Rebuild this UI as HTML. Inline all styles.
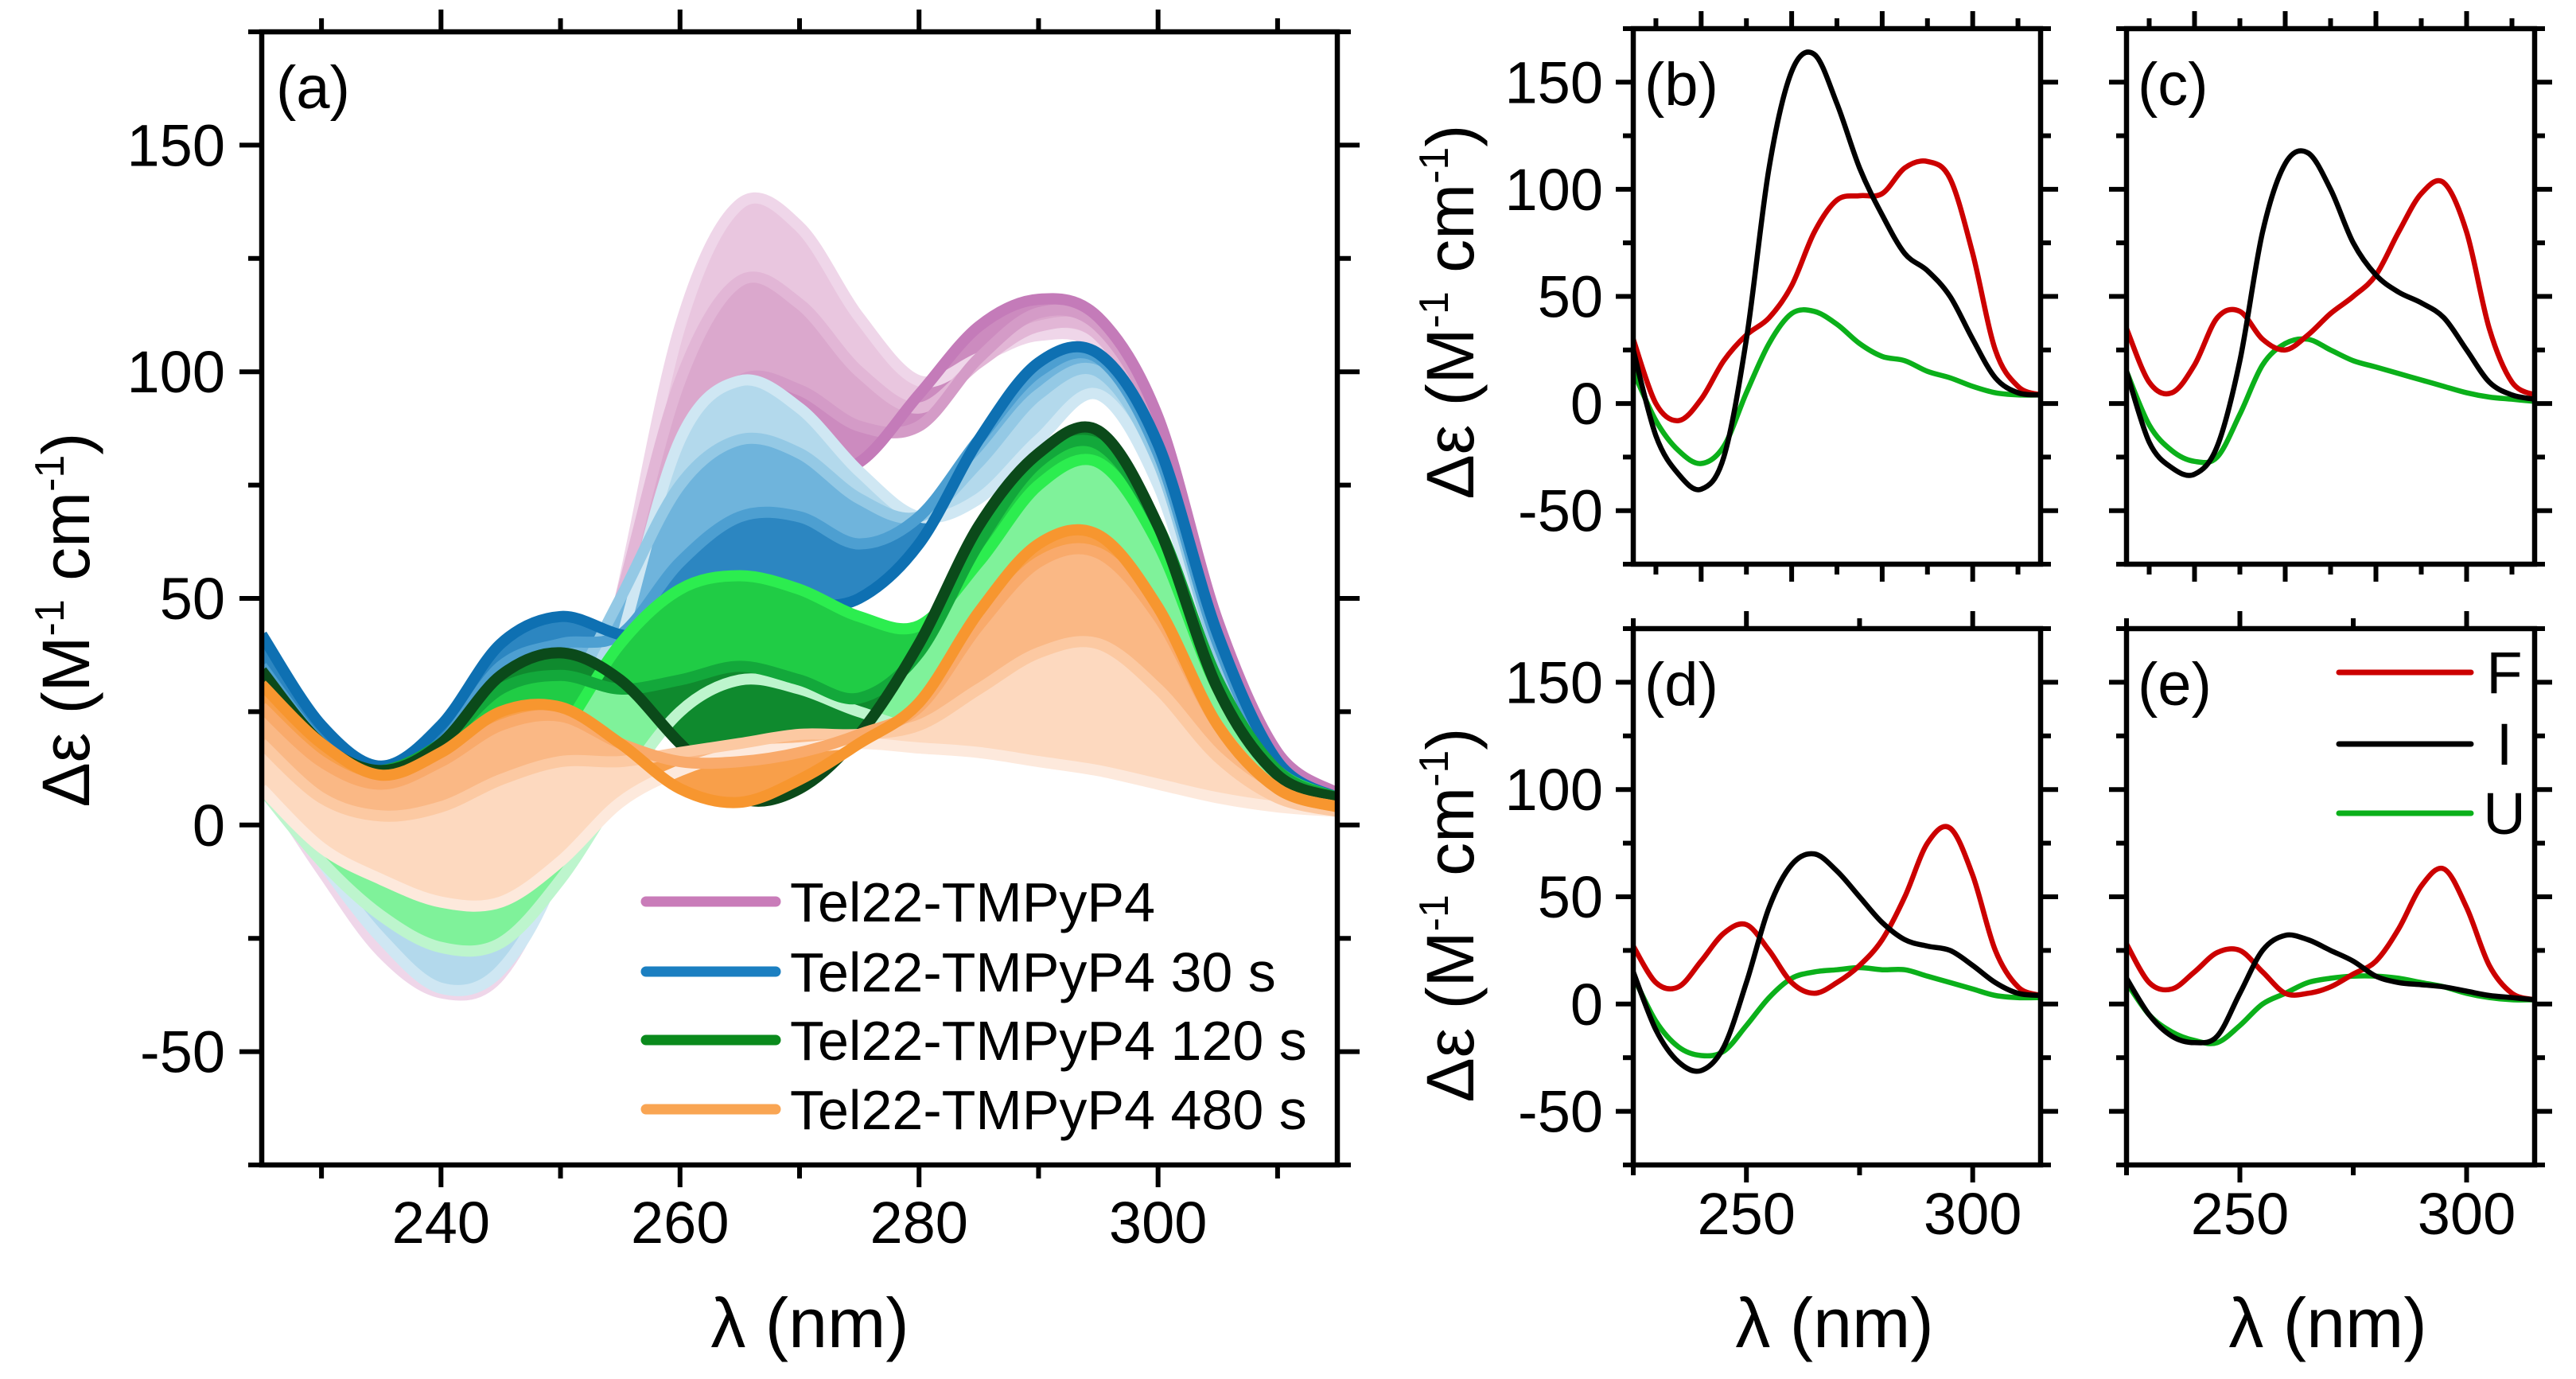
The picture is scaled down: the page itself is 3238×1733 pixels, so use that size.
<!DOCTYPE html>
<html><head><meta charset="utf-8"><style>
html,body{margin:0;padding:0;background:#fff;}
svg{display:block;font-family:"Liberation Sans",Arial,sans-serif;}
</style></head>
<body>
<svg id="fig" xmlns="http://www.w3.org/2000/svg" width="3238" height="1733" viewBox="0 0 3238 1733">
<rect width="3238" height="1733" fill="#fff"/>
<g id="layer"></g>
</svg>
<script>
// ---------- data ----------
const wavelengths = [225,230,235,240,245,250,255,260,265,270,275,280,285,290,295,300,305,310,315];
// panel (a) families (light -> dark)
const pinkCurves = [
 [10,-10,-28,-37,-33,-5,50,110,137,132,112,98,103,108,105,80,38,14,6],
 [18,-2,-18,-26,-20,5,50,98,120,115,100,92,102,110,108,85,40,14,6],
 [25,6,-8,-12,-2,15,45,80,98,96,88,88,103,113,110,88,42,15,7],
 [30,12,5,8,20,28,42,62,75,78,80,95,110,116,112,90,45,16,7]
];
const blueCurves = [
 [12,-8,-25,-36,-32,-8,40,85,98,92,78,68,72,85,95,75,35,12,5],
 [25,5,-5,-8,5,25,50,75,85,82,72,68,80,95,100,80,38,13,6],
 [35,18,10,18,35,40,42,58,68,68,62,68,85,100,103,82,40,13,6],
 [42,22,13,22,40,46,42,40,45,48,50,62,85,102,104,84,42,14,6]
];
const greenCurves = [
 [8,-8,-20,-27,-26,-12,8,25,32,30,25,22,30,40,45,35,18,8,5],
 [15,2,-5,-5,5,20,40,52,55,52,46,44,58,75,80,62,30,12,6],
 [28,15,12,18,30,33,30,32,35,32,28,38,62,80,84,66,32,12,6],
 [34,18,12,18,33,38,32,18,6,8,20,40,66,82,87,66,30,11,6]
];
const orangeCurves = [
 [8,-5,-12,-17,-17,-8,5,12,16,17,18,17,16,14,12,9,6,4,3],
 [18,6,2,4,10,14,14,16,18,20,20,22,30,38,40,30,15,6,3],
 [26,14,9,14,22,24,18,14,14,16,20,26,44,58,60,46,22,8,4],
 [31,18,11,16,25,26,18,8,5,10,18,27,47,62,64,48,22,8,4]
];
// panels (b)-(e): F, I, U
const panelB_F=[30,0,-8,2,20,32,40,55,80,95,97,98,110,113,105,70,25,8,4];
const panelB_I=[25,-15,-33,-40,-25,30,110,155,163,140,110,88,70,62,50,30,12,5,4];
const panelB_U=[15,-8,-22,-28,-20,5,28,42,43,37,28,22,20,15,12,8,5,4,4];
const panelC_F=[35,10,5,18,40,43,30,25,32,42,50,60,80,98,103,80,35,10,4];
const panelC_I=[15,-18,-30,-33,-20,20,80,112,117,100,75,60,52,47,40,25,10,4,2];
const panelC_U=[15,-10,-22,-27,-25,-5,18,28,30,25,20,17,14,11,8,5,3,2,1];
const panelD_F=[27,10,8,20,33,37,25,10,5,10,18,30,50,75,82,60,25,8,4];
const panelD_I=[15,-12,-27,-31,-20,10,45,65,70,62,50,38,30,27,25,18,10,5,4];
const panelD_U=[13,-8,-20,-24,-22,-10,3,12,15,16,17,16,16,13,10,7,4,3,3];
const panelE_F=[28,10,7,15,24,25,15,5,5,8,14,20,35,55,63,45,18,5,2];
const panelE_I=[12,-5,-15,-18,-15,5,25,32,30,25,20,13,10,9,8,6,4,3,2];
const panelE_U=[10,-5,-13,-17,-18,-10,0,5,10,12,13,13,12,10,8,5,3,2,2];
const yTickLabels=["-50","0","50","100","150"];
const aXTickLabels=["240","260","280","300"];
const smallXTickLabels=["250","300"];
const legendA=["Tel22-TMPyP4","Tel22-TMPyP4 30 s","Tel22-TMPyP4 120 s","Tel22-TMPyP4 480 s"];
const legendE=["F","I","U"];

// ---------- helpers ----------
const NS="http://www.w3.org/2000/svg";
const layer=document.getElementById('layer');
function mk(tag,attrs,parent){const e=document.createElementNS(NS,tag);for(const k in attrs)e.setAttribute(k,attrs[k]);(parent||layer).appendChild(e);return e;}
function scales(p){
  return {x:v=>p.x0+(v-225)/(315-225)*(p.x1-p.x0), y:v=>p.y1-(v+75)/250*(p.y1-p.y0)};
}
function pts(s,vals){return wavelengths.map((w,i)=>[s.x(w),s.y(vals[i])]);}
function smooth(P){
  let d="M"+P[0][0].toFixed(1)+","+P[0][1].toFixed(1);
  for(let i=0;i<P.length-1;i++){
    const p0=P[Math.max(0,i-1)],p1=P[i],p2=P[i+1],p3=P[Math.min(P.length-1,i+2)];
    const c1=[p1[0]+(p2[0]-p0[0])/6,p1[1]+(p2[1]-p0[1])/6];
    const c2=[p2[0]-(p3[0]-p1[0])/6,p2[1]-(p3[1]-p1[1])/6];
    d+=" C"+c1[0].toFixed(1)+","+c1[1].toFixed(1)+" "+c2[0].toFixed(1)+","+c2[1].toFixed(1)+" "+p2[0].toFixed(1)+","+p2[1].toFixed(1);
  }
  return d;
}
function smoothRev(P){const R=P.slice().reverse();return smooth(R).replace(/^M/,"L");}

function frame(p,name,opts){
  const s=scales(p);
  const g=mk('g',{});
  
  
  const ML=opts.big?28:22, mL=opts.big?17:13;
  const xt=opts.xt;
  xt.forEach(t=>{
    const X=s.x(t.v), L=t.major?ML:mL;
    const a=mk('line',{x1:X,y1:p.y0,x2:X,y2:p.y0-L,stroke:'#000','stroke-width':6},g);
    
    const b=mk('line',{x1:X,y1:p.y1,x2:X,y2:p.y1+L,stroke:'#000','stroke-width':6},g);
    
  });
  for(let v=-75;v<=175;v+=25){
    const Y=s.y(v),major=(v%50===0),L=major?ML:mL;
    const a=mk('line',{x1:p.x0,y1:Y,x2:p.x0-L,y2:Y,stroke:'#000','stroke-width':6},g);
    
    const b=mk('line',{x1:p.x1,y1:Y,x2:p.x1+L,y2:Y,stroke:'#000','stroke-width':6},g);
    
  }
  const r=mk('rect',{x:p.x0,y:p.y0,width:p.x1-p.x0,height:p.y1-p.y0,fill:'none',stroke:'#000','stroke-width':6.5},g);
  
  if(opts.ylabels){
    [-50,0,50,100,150].forEach((v,i)=>{
      const t=mk('text',{x:p.x0-opts.ylx,y:s.y(v)+26,'font-size':74,'text-anchor':'end',fill:'#000'},g);
      t.textContent=yTickLabels[i];
      
    });
  }
  if(opts.xlabels){
    opts.xlabels.forEach((v,i)=>{
      const t=mk('text',{x:s.x(v),y:opts.xly,'font-size':74,'text-anchor':'middle',fill:'#000'},g);
      t.textContent=opts.xlabelText[i];
      
    });
  }
  const pl=mk('text',{x:p.x0+opts.plx,y:p.y0+96,'font-size':76,fill:'#000'},g);
  pl.textContent=opts.label;
  
  return s;
}
function yTitle(cx,cy,name){
  const t=mk('text',{x:0,y:0,'font-size':84,'text-anchor':'middle',fill:'#000',transform:`translate(${cx},${cy}) rotate(-90)`});
  
  t.innerHTML='Δε (M<tspan font-size="52" dy="-32">-1</tspan><tspan dy="32"> cm</tspan><tspan font-size="52" dy="-32">-1</tspan><tspan dy="32">)</tspan>';
}
function xTitle(cx,y,name){
  const t=mk('text',{x:cx,y:y,'font-size':88,'text-anchor':'middle',fill:'#000'});
  t.textContent='λ (nm)';
  
}

// ---------- panel (a) ----------
const pa={x0:329,x1:1681,y0:40,y1:1464};
const sa=scales(pa);
const clip=mk('clipPath',{id:'clipA'});
mk('rect',{x:pa.x0,y:pa.y0,width:pa.x1-pa.x0,height:pa.y1-pa.y0},clip);
const ga=mk('g',{'clip-path':'url(#clipA)'});


const families=[
 {name:'tel22-tmpyp4',curves:pinkCurves,colors:['#efd6e9','#e2b6d6','#d49bc7','#c47bb9'],fills:['#e9c6df','#dba8cd','#cc8bbf']},
 {name:'tel22-tmpyp4-30s',curves:blueCurves,colors:['#cfe7f3','#94c9e5','#4d9fd1','#0e70b2'],fills:['#b3d9ec','#6fb4dc','#2c86c1']},
 {name:'tel22-tmpyp4-120s',curves:greenCurves,colors:['#bdf5cd','#2ced4f','#13a83b','#0b4a1a'],fills:['#7ff29a','#20cc45','#0f8a2e']},
 {name:'tel22-tmpyp4-480s',curves:orangeCurves,colors:['#fde9dc','#fcc9a2','#f9aa6b','#f7962f'],fills:['#fdd9bf','#fab885','#f89f4a']}
];
families.forEach(f=>{
  const P=f.curves.map(c=>pts(sa,c));
  for(let i=0;i<P.length-1;i++){
    const band=mk('path',{d:smooth(P[i])+" "+smoothRev(P[i+1])+" Z",fill:f.fills[i],stroke:'none'},ga);
    
    
  }
  P.forEach((pp,i)=>{
    const l=mk('path',{d:smooth(pp),fill:'none',stroke:f.colors[i],'stroke-width':14,'stroke-linejoin':'round'},ga);
    
    
  });
});
const xtA=[];for(let v=230;v<=310;v+=10)xtA.push({v:v,major:v%20===0});
frame(pa,'panel-a',{big:true,xt:xtA,ylabels:true,ylx:46,xlabels:[240,260,280,300],xlabelText:aXTickLabels,xly:1562,label:'(a)',plx:18});
yTitle(112,779,'panel-a-y-axis-title');
xTitle(1018,1693,'panel-a-x-axis-title');
// legend a
const legCols=['#c97cb9','#1b7fc1','#0a8a1c','#f9a553'];
const legY=[1133,1221,1307,1394];
legendA.forEach((txt,i)=>{
  const l=mk('line',{x1:812,y1:legY[i],x2:975,y2:legY[i],stroke:legCols[i],'stroke-width':13,'stroke-linecap':'round'});
  
  const t=mk('text',{x:993,y:legY[i]+25,'font-size':70,fill:'#000'});
  t.textContent=txt;
  
});

// ---------- panels (b)-(e) ----------
const small=[
 {p:{x0:2053,x1:2565,y0:36,y1:709},label:'(b)',F:panelB_F,I:panelB_I,U:panelB_U,yl:true,bottom:false,name:'panel-b'},
 {p:{x0:2673,x1:3186,y0:36,y1:709},label:'(c)',F:panelC_F,I:panelC_I,U:panelC_U,yl:false,bottom:false,name:'panel-c'},
 {p:{x0:2053,x1:2565,y0:790,y1:1464},label:'(d)',F:panelD_F,I:panelD_I,U:panelD_U,yl:true,bottom:true,name:'panel-d'},
 {p:{x0:2673,x1:3186,y0:790,y1:1464},label:'(e)',F:panelE_F,I:panelE_I,U:panelE_U,yl:false,bottom:true,name:'panel-e'}
];
small.forEach(sp=>{
  const s=scales(sp.p);
  const xt=[];
  if(sp.bottom){[225,250,275,300].forEach(v=>xt.push({v:v,major:(v===250||v===300)}));}
  else{for(let v=230;v<=310;v+=10)xt.push({v:v,major:v%20===0});}
  const g=mk('g',{});
  
  
  [['U','#0bb01a'],['F','#cc0000'],['I','#000000']].forEach(([k,c])=>{
    const l=mk('path',{d:smooth(pts(s,sp[k])),fill:'none',stroke:c,'stroke-width':6.5,'stroke-linejoin':'round'},g);
    
    
  });
  frame(sp.p,sp.name,{big:false,xt:xt,ylabels:sp.yl,ylx:38,xlabels:sp.bottom?[250,300]:null,xlabelText:smallXTickLabels,xly:1551,label:sp.label,plx:14});
});
yTitle(1852,392,'panel-b-y-axis-title');
yTitle(1852,1150,'panel-d-y-axis-title');
xTitle(2306,1693,'panel-d-x-axis-title');
xTitle(2926,1693,'panel-e-x-axis-title');
// legend e
const legEC=['#cc0000','#000000','#0bb01a'];
const legEY=[845,935,1022];
legendE.forEach((txt,i)=>{
  const l=mk('line',{x1:2940,y1:legEY[i],x2:3106,y2:legEY[i],stroke:legEC[i],'stroke-width':7,'stroke-linecap':'round'});
  
  const t=mk('text',{x:3148,y:legEY[i]+26,'font-size':74,'text-anchor':'middle',fill:'#000'});
  t.textContent=txt;
  
});
</script>
</body></html>
